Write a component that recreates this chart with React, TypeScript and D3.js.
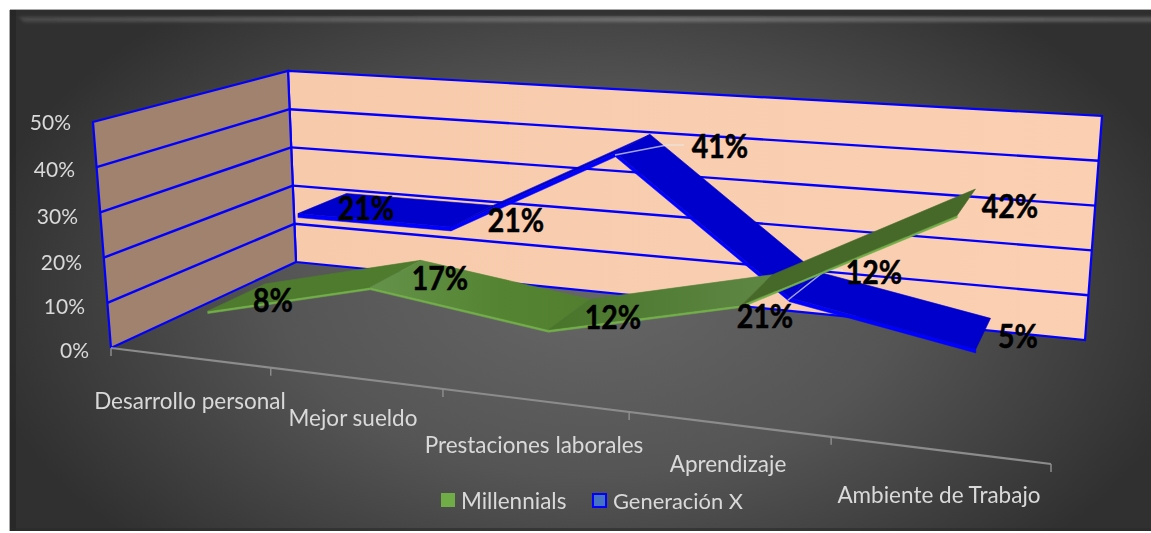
import React from "react";
import * as d3 from "d3";

// ---- data ----
const categories = ["Desarrollo personal", "Mejor sueldo", "Prestaciones laborales", "Aprendizaje", "Ambiente de Trabajo"];
const millennials = [8, 17, 12, 21, 42];
const generacionX = [21, 21, 41, 12, 5];
const yTicks = [0, 10, 20, 30, 40, 50];
const seriesNames = ["Millennials", "Generación X"];

// ---- layout ----
const W = 1151, H = 533;
type P = [number, number];
const floorQuad: P[] = [[111, 348], [1051, 464], [1085, 340], [296, 262]]; // (x,z) = 00,10,11,01
const topQuad: P[] = [[93, 122], [1070, 190], [1102, 116], [288, 71]];
const millDepth: P = [0.1, 0.4];
const genDepth: P = [0.6, 0.9];
const yTickPos: P[] = [[89, 349], [85, 305], [82, 261], [78, 215], [75, 168], [71, 121]];
const catPos: P[] = [[190, 400], [353, 417], [534, 444], [728, 463], [939, 494]];
const millLabelPos: P[] = [[273, 299], [440, 277], [613, 316], [765, 315], [1010, 205]];
const genLabelPos: P[] = [[366, 207], [516, 219], [720, 145], [874, 271], [1018, 335]];
const leader41: P[] = [[615, 155], [667, 145], [684, 145]];
const leader12: P[] = [[788, 300], [826, 270], [843, 270]];

function quadMap(q: P[]) {
  const [[x0, y0], [x1, y1], [x2, y2], [x3, y3]] = q;
  const dx1 = x1 - x2, dx2 = x3 - x2, sx = x0 - x1 + x2 - x3;
  const dy1 = y1 - y2, dy2 = y3 - y2, sy = y0 - y1 + y2 - y3;
  const den = dx1 * dy2 - dx2 * dy1;
  const g = (sx * dy2 - dx2 * sy) / den;
  const h = (dx1 * sy - sx * dy1) / den;
  const a = x1 - x0 + g * x1, b = x3 - x0 + h * x3, c = x0;
  const d = y1 - y0 + g * y1, e = y3 - y0 + h * y3, f = y0;
  return (u: number, v: number): P => {
    const w = g * u + h * v + 1;
    return [(a * u + b * v + c) / w, (d * u + e * v + f) / w];
  };
}
const floorMap = quadMap(floorQuad);
const topMap = quadMap(topQuad);
const yScale = d3.scaleLinear().domain([0, 50]).range([0, 1]);
const xScale = d3.scaleBand<string>().domain(categories).range([0, 1]);
const xCenter = (i: number) => (xScale(categories[i]) as number) + xScale.bandwidth() / 2;
function project(x: number, value: number, z: number): P {
  const a = floorMap(x, z), b = topMap(x, z), t = yScale(value);
  return [a[0] + (b[0] - a[0]) * t, a[1] + (b[1] - a[1]) * t];
}
const line = d3.line<P>();
const closed = (pts: P[]) => (line(pts) as string) + "Z";
const font = "Lato, 'Open Sans', sans-serif";
const down = (p: P, d: number): P => [p[0], p[1] + d];

function Ribbon({ values, depth, fills, edge, thick }: { values: number[]; depth: P; fills: string[]; edge: string; thick: number }) {
  const segs = d3.pairs(values.map((v, i) => ({ v, i })));
  return (
    <g>
      {segs.map(([a, b], k) => {
        const f1 = project(xCenter(a.i), a.v, depth[0]);
        const f2 = project(xCenter(b.i), b.v, depth[0]);
        const b2 = project(xCenter(b.i), b.v, depth[1]);
        const b1 = project(xCenter(a.i), a.v, depth[1]);
        return (
          <g key={k}>
            <path d={closed([f1, f2, down(f2, thick), down(f1, thick)])} fill={edge} stroke={edge} strokeWidth={0.5} strokeLinejoin="round" />
            <path d={closed([f1, f2, b2, b1])} fill={fills[k]} stroke={fills[k]} strokeWidth={0.6} strokeLinejoin="round" />
          </g>
        );
      })}
    </g>
  );
}

export default function App() {
  const wallBack = closed([floorMap(0, 1), floorMap(1, 1), topMap(1, 1), topMap(0, 1)]);
  const wallSide = closed([floorMap(0, 0), floorMap(0, 1), topMap(0, 1), topMap(0, 0)]);
  const tickXs = d3.range(0, 6).map((i) => i / 5);
  return (
    <svg width={W} height={H} style={{ position: "absolute", left: 0, top: 0, display: "block", background: "#fff" }}>
      <defs>
        <radialGradient id="bg" gradientUnits="userSpaceOnUse" cx={590} cy={290} r={620} gradientTransform="translate(0 116) scale(1 0.6)">
          <stop offset="0" stopColor="#666666" />
          <stop offset="0.5" stopColor="#555555" />
          <stop offset="1" stopColor="#303030" />
        </radialGradient>
        <linearGradient id="bevelTop" x1="0" x2="1" y1="0" y2="0">
          <stop offset="0" stopColor="#4a4a4a" />
          <stop offset="0.55" stopColor="#6f6f6f" />
          <stop offset="1" stopColor="#575757" />
        </linearGradient>
        <filter id="soft" x="-2%" y="-80%" width="104%" height="260%">
          <feGaussianBlur stdDeviation="1.6" />
        </filter>
        <filter id="softText" x="-5%" y="-20%" width="110%" height="140%">
          <feGaussianBlur stdDeviation="0.35" />
        </filter>
        <linearGradient id="wall" x1="0" x2="1" y1="0" y2="0">
          <stop offset="0" stopColor="#f7caac" />
          <stop offset="1" stopColor="#fbd0b2" />
        </linearGradient>
        <linearGradient id="m1" x1="0" x2="1" y1="0" y2="0">
          <stop offset="0" stopColor="#64924a" />
          <stop offset="0.6" stopColor="#548431" />
          <stop offset="1" stopColor="#527f2f" />
        </linearGradient>
        <linearGradient id="m2" x1="0" x2="1" y1="0" y2="0">
          <stop offset="0" stopColor="#48752a" />
          <stop offset="1" stopColor="#5e8744" />
        </linearGradient>
      </defs>

      <rect x={10} y={10} width={W - 10} height={H - 12} fill="url(#bg)" />
      <rect x={9} y={10} width={1} height={H - 12} fill="#a8a8a8" />
      <rect x={10} y={9} width={W - 10} height={1} fill="#a8a8a8" />
      <rect x={10} y={10} width={W - 10} height={6} fill="#2e2e2e" opacity={0.75} />
      <path d={closed([[19, 17], [W + 10, 17], [W + 10, 22], [24, 22]])} fill="url(#bevelTop)" filter="url(#soft)" />
      <rect x={10} y={10} width={6} height={H - 12} fill="#1f1f1f" opacity={0.4} />
      <rect x={10} y={H - 5} width={W - 10} height={3} fill="#2a2a2a" opacity={0.6} />

      <path d={wallBack} fill="url(#wall)" stroke="#0000ff" strokeWidth={2.2} />
      <path d={wallSide} fill="#a0826e" stroke="#0000ff" strokeWidth={2.2} />
      {yTicks.map((t) => (
        <g key={t}>
          {t > 0 && t < 50 && (
            <>
              <path d={line([project(0, t, 0), project(0, t, 1)]) as string} stroke="#0000ff" strokeWidth={2.4} fill="none" />
              <path d={line([project(0, t, 1), project(1, t, 1)]) as string} stroke="#0000ff" strokeWidth={2.4} fill="none" />
            </>
          )}
        </g>
      ))}
      <path d={line([project(0, 0, 0), project(1, 0, 0)]) as string} stroke="#8c8c8c" strokeWidth={2.2} fill="none" />
      {tickXs.map((x) => {
        const p = project(x, 0, 0);
        return <path key={x} d={line([p, down(p, 8)]) as string} stroke="#8c8c8c" strokeWidth={1.5} fill="none" />;
      })}

      <Ribbon values={generacionX} depth={genDepth} fills={["#0000cc", "#0000cc", "#0000cc", "#0000cc"]} edge="#0000ff" thick={4} />
      <path d={line(leader41) as string} stroke="#e8e8e8" strokeOpacity={0.7} strokeWidth={1.5} fill="none" />
      <path d={line(leader12) as string} stroke="#e8e8e8" strokeOpacity={0.7} strokeWidth={1.5} fill="none" />
      <Ribbon values={millennials} depth={millDepth} fills={["#4e7b2e", "url(#m1)", "url(#m2)", "#46692a"]} edge="#72ae49" thick={2.5} />

      <g fontFamily={font} fontSize={22.5} fill="#d9d9d9" filter="url(#softText)">
        {yTicks.map((t, i) => (
          <text key={t} x={yTickPos[i][0]} y={yTickPos[i][1]} textAnchor="end" dominantBaseline="central" fontSize={21}>{t}%</text>
        ))}
        {categories.map((c, i) => (
          <text key={c} x={catPos[i][0]} y={catPos[i][1]} textAnchor="middle" dominantBaseline="central">{c}</text>
        ))}
        <rect x={441} y={493} width={14} height={14} fill="#70ad47" />
        <text x={461} y={500} dominantBaseline="central">{seriesNames[0]}</text>
        <rect x={593} y={494} width={13} height={13} fill="#4472c4" stroke="#0000ff" strokeWidth={2} />
        <text x={613} y={500} dominantBaseline="central" fontSize={21.9}>{seriesNames[1]}</text>
      </g>
      <g fontFamily={font} fontSize={32} fontWeight={700} fill="#000" stroke="#000" strokeWidth={0.5} textAnchor="middle">
        {millennials.map((v, i) => (
          <text key={"m" + i} transform={`translate(${millLabelPos[i][0]},${millLabelPos[i][1]}) scale(0.89,1)`} dominantBaseline="central">{v}%</text>
        ))}
        {generacionX.map((v, i) => (
          <text key={"g" + i} transform={`translate(${genLabelPos[i][0]},${genLabelPos[i][1]}) scale(0.89,1)`} dominantBaseline="central">{v}%</text>
        ))}
      </g>
    </svg>
  );
}
